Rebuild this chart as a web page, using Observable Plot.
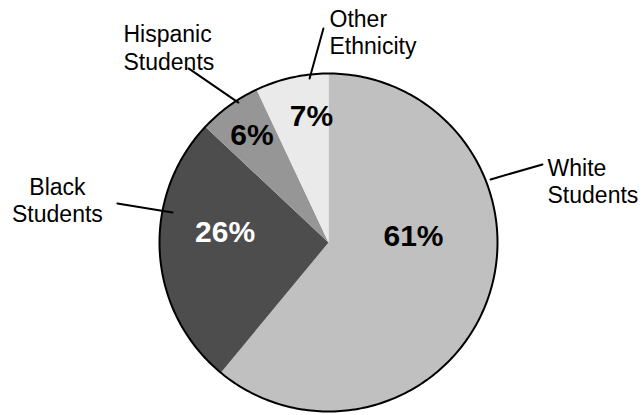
<!DOCTYPE html>
<html>
<head>
<meta charset="utf-8">
<script src="https://cdn.jsdelivr.net/npm/d3@7"></script>
<script src="https://cdn.jsdelivr.net/npm/@observablehq/plot@0.6"></script>
<style>
  html, body { margin: 0; padding: 0; background: #fff; }
  #chart { width: 644px; height: 415px; }
</style>
</head>
<body>
<div id="chart"></div>
<script>
// ---- data ----
const categories = ["White Students", "Black Students", "Hispanic Students", "Other Ethnicity"];
const labelLines = ["White\nStudents", "Black\nStudents", "Hispanic\nStudents", "Other\nEthnicity"];
const shares = [61, 26, 6, 7];
const pctLabels = ["61%", "26%", "6%", "7%"];
const sliceColors = ["#c0c0c0", "#4d4d4d", "#969696", "#eaeaea"];
const pctColors = ["#000000", "#ffffff", "#000000", "#000000"];

// ---- layout (in units of the pie radius, origin at pie centre) ----
const W = 644, H = 415, CX = 328, CY = 242, R = 169;
const pctPos = [[0.503, 0.036], [-0.612, 0.061], [-0.453, 0.633], [-0.101, 0.749]];
const namePos = [[1.296, 0.510], [-1.604, 0.400], [-1.213, 1.300], [0.006, 1.394]];
const nameAnchor = ["start", "middle", "start", "start"];
const leaderFrom = [[0.959, 0.373], [-0.923, 0.178], [-0.533, 0.828], [-0.112, 0.970]];
const leaderTo = [[1.266, 0.462], [-1.249, 0.231], [-0.828, 1.030], [-0.030, 1.266]];

// ---- build geometry ----
const arcs = d3.pie().sort(null).value(d => d)(shares);
const slicePts = [];
arcs.forEach((a, i) => {
  slicePts.push({k: categories[i], c: sliceColors[i], x: 0, y: 0});
  const n = Math.max(2, Math.ceil((a.endAngle - a.startAngle) / (Math.PI / 180)));
  for (let j = 0; j <= n; j++) {
    const t = a.startAngle + (a.endAngle - a.startAngle) * j / n;
    slicePts.push({k: categories[i], c: sliceColors[i], x: Math.sin(t), y: Math.cos(t)});
  }
  slicePts.push({k: categories[i], c: sliceColors[i], x: 0, y: 0});
});
const rim = d3.range(0, 361).map(d => ({x: Math.sin(d * Math.PI / 180), y: Math.cos(d * Math.PI / 180)}));

const pctData = categories.map((k, i) => ({k, label: pctLabels[i], color: pctColors[i], x: pctPos[i][0], y: pctPos[i][1]}));
const nameData = categories.map((k, i) => ({k, label: labelLines[i], anchor: nameAnchor[i], x: namePos[i][0], y: namePos[i][1]}));
const leaderData = [];
categories.forEach((k, i) => {
  leaderData.push({k, x: leaderFrom[i][0], y: leaderFrom[i][1]});
  leaderData.push({k, x: leaderTo[i][0], y: leaderTo[i][1]});
});

const font = "'Liberation Sans', Arial, Helvetica, sans-serif";

const plot = Plot.plot({
  width: W,
  height: H,
  margin: 0,
  style: {background: "#fff", fontFamily: font},
  x: {domain: [-CX / R, (W - CX) / R], range: [0, W], axis: null},
  y: {domain: [-(H - CY) / R, CY / R], range: [H, 0], axis: null},
  color: {type: "identity"},
  marks: [
    Plot.line(slicePts, {x: "x", y: "y", z: "k", fill: "c", stroke: "none", curve: "linear"}),
    Plot.line(rim, {x: "x", y: "y", stroke: "#000", strokeWidth: 2, fill: "none"}),
    Plot.line(leaderData, {x: "x", y: "y", z: "k", stroke: "#000", strokeWidth: 2}),
    Plot.text(pctData, {x: "x", y: "y", text: "label", fill: "color", fontSize: 30, fontWeight: "bold", textAnchor: "middle", lineAnchor: "middle", fontFamily: font}),
    ...nameData.map(d => Plot.text([d], {x: "x", y: "y", text: "label", fill: "#000", fontSize: 23, textAnchor: d.anchor, lineAnchor: "top", lineHeight: 1.2, fontFamily: font}))
  ]
});
document.getElementById("chart").appendChild(plot);
</script>
</body>
</html>
